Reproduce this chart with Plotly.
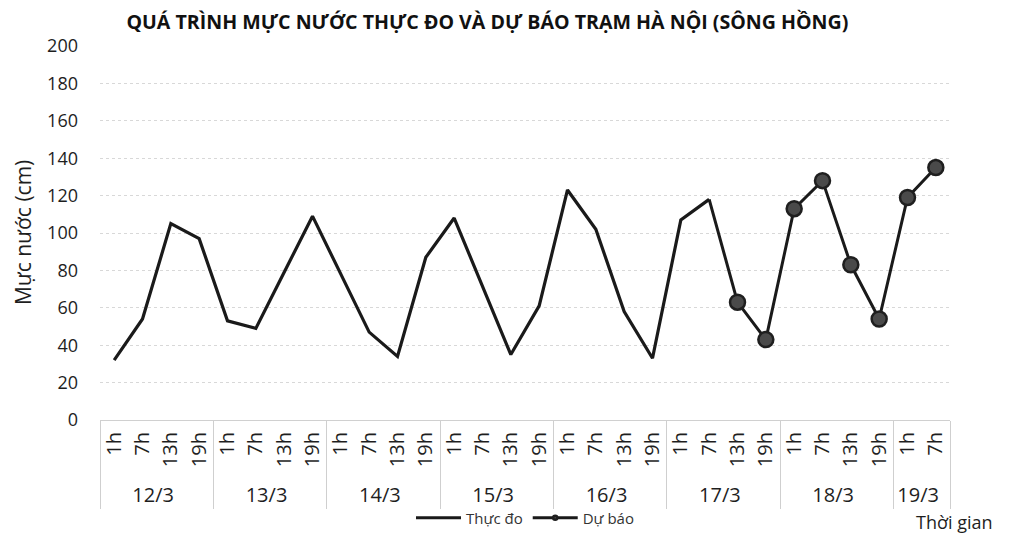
import plotly.graph_objects as go

days = ["12/3", "13/3", "14/3", "15/3", "16/3", "17/3", "18/3", "19/3"]
hours = ["1h", "7h", "13h", "19h"]
hours_per_day = [4, 4, 4, 4, 4, 4, 4, 2]

observed = [32, 54, 105, 97,
            53, 49, 79, 109,
            78, 47, 34, 87,
            108, 71, 35, 61,
            123, 102, 58, 33,
            107, 118]
forecast_start = 21  # index of 17/3 7h, where the forecast line joins
forecast = [118, 63, 43,
            113, 128, 83, 54,
            119, 135]

x_days = []
x_hours = []
for d, n in zip(days, hours_per_day):
    for h in hours[:n]:
        x_days.append(d)
        x_hours.append(h)

n_all = len(x_days)
obs_y = observed + [None] * (n_all - len(observed))
fc_y = [None] * forecast_start + forecast
fc_sizes = [0] * forecast_start + [0] + [15] * (len(forecast) - 1)

fig = go.Figure()
fig.add_trace(go.Scatter(
    x=[x_days, x_hours], y=obs_y, name="Thực đo", mode="lines",
    line=dict(color="#1a1a1a", width=3.2),
))
fig.add_trace(go.Scatter(
    x=[x_days, x_hours], y=fc_y, name="Dự báo", mode="lines+markers",
    line=dict(color="#1a1a1a", width=3),
    marker=dict(size=fc_sizes, color="#4a4a4a", opacity=1,
                line=dict(color="#1f1f1f", width=2.5)),
))

font_family = "Open Sans, Noto Sans, sans-serif"

# page body has an 8px margin: figure is sized/offset so that the plot lands where the reference has it
fig.update_layout(
    width=1003, height=527,
    margin=dict(l=92, r=61, t=38, b=115, autoexpand=False),
    paper_bgcolor="white", plot_bgcolor="white",
    font=dict(family=font_family, color="#1e1e1e"),
    title=dict(text="<b>QUÁ TRÌNH MỰC NƯỚC THỰC ĐO VÀ DỰ BÁO TRẠM HÀ NỘI (SÔNG HỒNG)</b>",
               x=0.478, xanchor="center", y=0.973, yanchor="middle",
               font=dict(size=19.6, family=font_family, color="#111")),
    showlegend=True,
    legend=dict(orientation="h", x=0.5, xanchor="center", y=-0.262, yanchor="middle",
                font=dict(size=15, color="#333"), itemwidth=45, bgcolor="rgba(0,0,0,0)"),
)
fig.update_yaxes(
    range=[0, 200], dtick=20, showgrid=True, gridcolor="#d8d8d8", griddash="dot", gridwidth=1,
    zeroline=False, showline=False, automargin=False,
    tickfont=dict(size=18, color="#1e1e1e"), ticklabelstandoff=21,
)
fig.update_xaxes(
    type="multicategory", range=[-0.5, n_all - 0.5], showgrid=False, showline=True,
    linecolor="#d0d0d0", automargin=False,
    tickangle=-90, tickfont=dict(size=20, color="#1e1e1e"), ticklabelstandoff=3,
    showdividers=True, dividercolor="#cfcfcf", dividerwidth=1,
)
fig.add_annotation(text="Mực nước (cm)", x=-0.0905, y=0.5, xref="paper", yref="paper",
                   xanchor="center", yanchor="middle", textangle=-90, showarrow=False,
                   font=dict(size=21, color="#1e1e1e"))
fig.add_annotation(text="Thời gian", x=1.005, y=-0.274, xref="paper", yref="paper",
                   xanchor="center", yanchor="middle", showarrow=False,
                   font=dict(size=18, color="#1e1e1e"))

fig.write_html("out.html")
